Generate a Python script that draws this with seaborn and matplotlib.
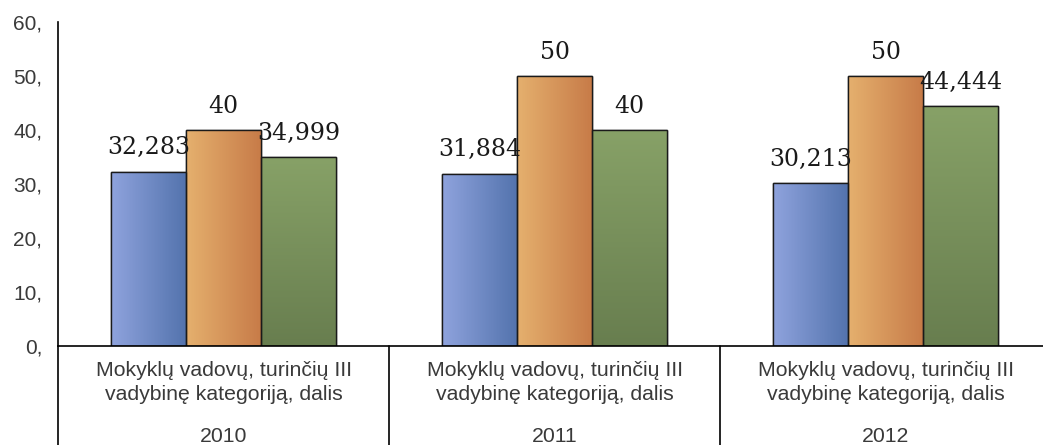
import numpy as np
import pandas as pd
import matplotlib
matplotlib.use("Agg")
import matplotlib.pyplot as plt
import seaborn as sns
from matplotlib.colors import LinearSegmentedColormap

years = ["2010", "2011", "2012"]
category = "Mokyklų vadovų, turinčių III\nvadybinę kategoriją, dalis"
series = ["Serija 1", "Serija 2", "Serija 3"]
values_s1 = [32.283, 31.884, 30.213]
values_s2 = [40, 50, 50]
values_s3 = [34.999, 40, 44.444]
labels_s1 = ["32,283", "31,884", "30,213"]
labels_s2 = ["40", "50", "50"]
labels_s3 = ["34,999", "40", "44,444"]
yticks = [0, 10, 20, 30, 40, 50, 60]
ytick_labels = ["0,", "10,", "20,", "30,", "40,", "50,", "60,"]

df = pd.DataFrame({
    "year": years * 3,
    "series": [series[0]] * 3 + [series[1]] * 3 + [series[2]] * 3,
    "value": values_s1 + values_s2 + values_s3,
})
all_labels = [labels_s1, labels_s2, labels_s3]

sns.set_style("white")
fig = plt.figure(figsize=(10.43, 4.45), dpi=100)
ax = fig.add_axes([58 / 1043, (445 - 346) / 445, (1051 - 58) / 1043, (346 - 22) / 445])

base_colors = ["#7189c6", "#d99a5e", "#78905a"]
sns.barplot(data=df, x="year", y="value", hue="series", order=years,
            hue_order=series, palette=base_colors, width=0.68,
            edgecolor="#1a1a1a", linewidth=1.0, legend=False, ax=ax)

grads = [
    (["#8fa3dd", "#5373ad"], "h"),
    (["#e5b06e", "#c77b48"], "h"),
    (["#87a167", "#687e4f"], "v"),
]

ax.set_ylim(0, 60)
ax.set_xlim(-0.5, 2.5)

for i, cont in enumerate(ax.containers):
    cols, direction = grads[i]
    cmap = LinearSegmentedColormap.from_list(f"g{i}", cols)
    for j, patch in enumerate(cont.patches):
        x0 = patch.get_x()
        w = patch.get_width()
        h = patch.get_height()
        if direction == "h":
            img = np.linspace(0, 1, 100).reshape(1, -1)
        else:
            img = np.linspace(1, 0, 100).reshape(-1, 1)
        im = ax.imshow(img, cmap=cmap, aspect="auto",
                       extent=[x0, x0 + w, 0, h], origin="lower",
                       zorder=patch.get_zorder() + 0.1)
        im.set_clip_path(patch)
        ax.add_patch(plt.Rectangle((x0, 0), w, h, fill=False,
                                   edgecolor="#1a1a1a", linewidth=1.0,
                                   zorder=patch.get_zorder() + 0.2))
        ax.annotate(all_labels[i][j], (x0 + w / 2, h), xytext=(0, 12.5),
                    textcoords="offset points", ha="center", va="baseline",
                    fontsize=17, family="DejaVu Serif", color="#1a1a1a",
                    zorder=10)

ax.set_xlim(-0.5, 2.5)
ax.set_ylim(0, 60)
ax.set_yticks(yticks)
ax.set_yticklabels(ytick_labels, family="Liberation Sans", fontsize=15,
                   color="#3a3a3a")
ax.tick_params(axis="y", length=0, pad=11.5)
ax.set_xticks([])
ax.set_xlabel("")
ax.set_ylabel("")
for s in ["top", "right"]:
    ax.spines[s].set_visible(False)
for s in ["left", "bottom"]:
    ax.spines[s].set_color("#000000")
    ax.spines[s].set_linewidth(1.2)

for k, yr in enumerate(years):
    ax.text(k, -0.047, category, transform=ax.get_xaxis_transform(),
            ha="center", va="top", fontsize=15.3, family="Liberation Sans",
            color="#3a3a3a", linespacing=1.32)
    ax.text(k, -0.25, yr, transform=ax.get_xaxis_transform(),
            ha="center", va="top", fontsize=15.3, family="Liberation Sans",
            color="#3a3a3a")
for b in [-0.5, 0.5, 1.5, 2.5]:
    ax.plot([b, b], [0, -0.31], transform=ax.get_xaxis_transform(),
            color="#000000", linewidth=1.2, clip_on=False)

fig.savefig("out.png", dpi=100)
